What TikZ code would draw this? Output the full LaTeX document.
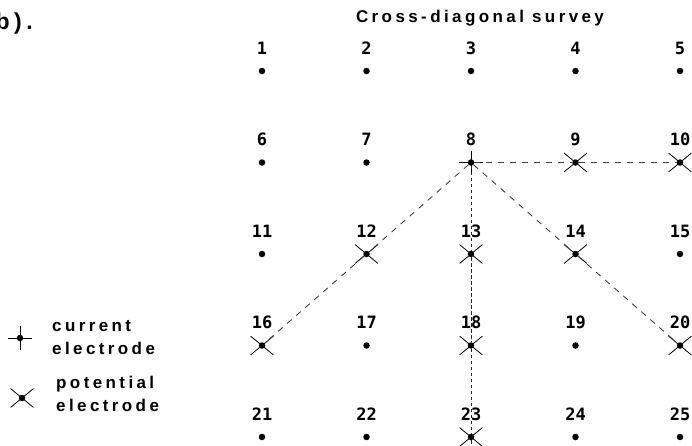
\documentclass[tikz,border=0pt]{standalone}
\usepackage{fontspec}
\usepackage{tikz}
\usetikzlibrary{shapes.misc}
\newfontfamily\surveyfont[LetterSpace=20]{Liberation Sans Bold}
\newfontfamily\numfont{DejaVu Sans Mono Bold}

\begin{document}
\begin{tikzpicture}[
      x=1pt, y=-1pt,
      dot/.style={circle, fill, inner sep=0pt, minimum size=6.5pt},
      lab/.style={inner sep=0pt, font=\numfont\fontsize{17}{17}\selectfont},
      pot/.style={cross out, draw, line width=0.8pt, minimum width=22pt, minimum height=18pt, inner sep=0pt},
      cur/.style={rectangle, minimum size=24pt, inner sep=0pt,
                  path picture={\draw[line width=0.9pt] (path picture bounding box.north) -- (path picture bounding box.south)
                                            (path picture bounding box.west) -- (path picture bounding box.east);}},
      txt/.style={font=\surveyfont\fontsize{17}{23}\selectfont, inner sep=0pt, align=left},
      link/.style={line width=0.9pt, color=black!75, dash pattern=on 6pt off 6pt},
      fine/.style={line width=0.9pt, color=black!85, dash pattern=on 3.5pt off 2.5pt}
    ]
      \useasboundingbox (0,0) rectangle (692,445);
      \clip (0,0) rectangle (692,445);

      \node[txt, anchor=east, font=\surveyfont\fontsize{23}{23}\selectfont] (part) at (33,24) {b).};
      \node[txt] (title) at (480,18) {Cross-diagonal survey};

      % electrode grid
      \node[dot, label={[lab, label distance=13pt]above:1}]  (e1)  at (262,71)    {};
      \node[dot, label={[lab, label distance=13pt]above:2}]  (e2)  at (366.5,71)  {};
      \node[dot, label={[lab, label distance=13pt]above:3}]  (e3)  at (471,71)    {};
      \node[dot, label={[lab, label distance=13pt]above:4}]  (e4)  at (575.5,71)  {};
      \node[dot, label={[lab, label distance=13pt]above:5}]  (e5)  at (680,71)    {};
      \node[dot, label={[lab, label distance=13pt]above:6}]  (e6)  at (262,162.5)   {};
      \node[dot, label={[lab, label distance=13pt]above:7}]  (e7)  at (366.5,162.5) {};
      \node[dot, label={[lab, label distance=13pt]above:8}]  (e8)  at (471,162.5)   {};
      \node[dot, label={[lab, label distance=13pt]above:9}]  (e9)  at (575.5,162.5) {};
      \node[dot, label={[lab, label distance=13pt]above:10}] (e10) at (680,162.5)   {};
      \node[dot, label={[lab, label distance=13pt]above:11}] (e11) at (262,254)   {};
      \node[dot, label={[lab, label distance=13pt]above:12}] (e12) at (366.5,254) {};
      \node[dot, label={[lab, label distance=13pt]above:13}] (e13) at (471,254)   {};
      \node[dot, label={[lab, label distance=13pt]above:14}] (e14) at (575.5,254) {};
      \node[dot, label={[lab, label distance=13pt]above:15}] (e15) at (680,254)   {};
      \node[dot, label={[lab, label distance=13pt]above:16}] (e16) at (262,345.5)   {};
      \node[dot, label={[lab, label distance=13pt]above:17}] (e17) at (366.5,345.5) {};
      \node[dot, label={[lab, label distance=13pt]above:18}] (e18) at (471,345.5)   {};
      \node[dot, label={[lab, label distance=13pt]above:19}] (e19) at (575.5,345.5) {};
      \node[dot, label={[lab, label distance=13pt]above:20}] (e20) at (680,345.5)   {};
      \node[dot, label={[lab, label distance=13pt]above:21}] (e21) at (262,437)   {};
      \node[dot, label={[lab, label distance=13pt]above:22}] (e22) at (366.5,437) {};
      \node[dot, label={[lab, label distance=13pt]above:23}] (e23) at (471,437)   {};
      \node[dot, label={[lab, label distance=13pt]above:24}] (e24) at (575.5,437) {};
      \node[dot, label={[lab, label distance=13pt]above:25}] (e25) at (680,437)   {};

      % electrode markers
      \node[cur] (c8)  at (e8)  {};
      \node[pot] (p9)  at (e9)  {};
      \node[pot] (p10) at (e10) {};
      \node[pot] (p12) at (e12) {};
      \node[pot] (p13) at (e13) {};
      \node[pot] (p14) at (e14) {};
      \node[pot] (p16) at (e16) {};
      \node[pot] (p18) at (e18) {};
      \node[pot] (p20) at (e20) {};
      \node[pot] (p23) at (e23) {};

      % survey lines
      \draw[link] (e8) -- (e9) -- (e10);
      \draw[link] (e8) -- (e12) -- (e16);
      \draw[link] (e8) -- (e14) -- (e20);
      \draw[fine] (e8) -- (e13) -- (e18) -- (e23) -- ++(0,10);

      % legend
      \node[dot] (legcur) at (20,338) {};
      \node[cur] at (legcur) {};
      \node[txt, anchor=west] (curtxt) at (52,338) {current\\electrode};
      \node[dot] (legpot) at (22,398) {};
      \node[pot] at (legpot) {};
      \node[txt, anchor=west] (pottxt) at (56,394) {potential\\electrode};
    \end{tikzpicture}
\end{document}
